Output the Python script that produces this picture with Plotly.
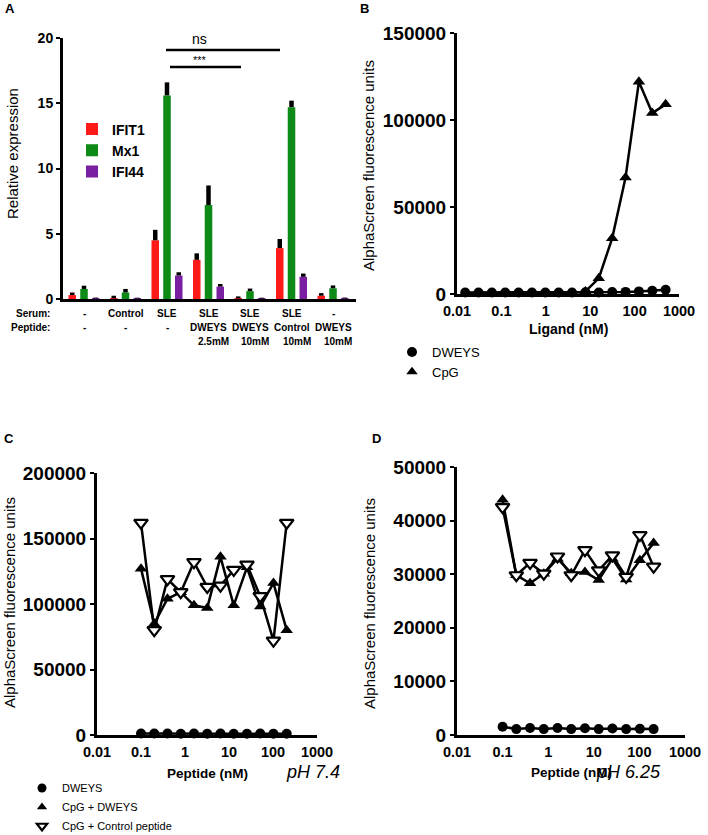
import plotly.graph_objects as go

W, H = 708, 835
FONT = "Liberation Sans, Arial, sans-serif"

# ---------------- Panel A data ----------------
serum_labels = ["-", "Control", "SLE", "SLE", "SLE", "SLE", "-"]
peptide_labels = ["-", "-", "-", "DWEYS", "DWEYS", "Control", "DWEYS"]
dose_labels = ["", "", "", "2.5mM", "10mM", "10mM", "10mM"]

ifit1 = [0.3, 0.05, 4.5, 3.0, 0.05, 3.9, 0.25]
ifit1_err = [0.2, 0.2, 0.8, 0.5, 0.15, 0.7, 0.2]
mx1 = [0.77, 0.5, 15.6, 7.2, 0.6, 14.7, 0.82]
mx1_err = [0.25, 0.27, 1.0, 1.5, 0.2, 0.5, 0.22]
ifi44 = [0.05, 0.04, 1.8, 0.95, 0.04, 1.7, 0.05]
ifi44_err = [0.06, 0.06, 0.25, 0.2, 0.06, 0.25, 0.06]

a_yticks = [0, 5, 10, 15, 20]
# significance bars: (x0, x1, y) in category / value units
sig_ns = [1.976, 4.723, 19.08]
sig_star = [2.072, 3.783, 17.78]

# ---------------- Panel B data ----------------
ligand_nM = [0.0153, 0.0305, 0.061, 0.122, 0.244, 0.488, 0.977, 1.95,
             3.9, 7.8, 15.6, 31.25, 62.5, 125, 250, 500]
dweys_b = [900, 900, 900, 900, 900, 900, 900, 900,
           900, 1000, 900, 1100, 1200, 1500, 1900, 2400]
cpg_b = [300, 300, 300, 300, 300, 300, 300, 300,
         400, 1500, 9000, 32000, 67000, 122000, 104000, 109000]
b_yticks = [0, 50000, 100000, 150000]

# ---------------- Panels C / D data ----------------
peptide_nM = [0.1, 0.2, 0.4, 0.8, 1.6, 3.2, 6.4, 12.8, 25.6, 51.2, 102.4, 204.8]
dweys_c = [1200, 1100, 1100, 1000, 1100, 1000, 1100, 1000, 1000, 1100, 1000, 1000]
cpg_dweys_c = [127000, 85000, 104000, 109000, 99000, 97000,
               136000, 99000, 128000, 98000, 116000, 80000]
cpg_ctrl_c = [162000, 80000, 119000, 109000, 132000, 113000,
              114000, 126000, 130000, 106000, 72000, 162000]
c_yticks = [0, 50000, 100000, 150000, 200000]

dweys_d = [1550, 1100, 1300, 1100, 1300, 1100, 1250, 1100, 1200, 1100, 1150, 1100]
cpg_dweys_d = [43900, 29800, 28300, 30100, 32900, 30200,
               30400, 28900, 32900, 29000, 32600, 35800]
cpg_ctrl_d = [42500, 29800, 32100, 30100, 33300, 29800,
              34500, 30700, 33500, 29500, 37300, 31400]
d_yticks = [0, 10000, 20000, 30000, 40000, 50000]

log_ticks = [0.01, 0.1, 1, 10, 100, 1000]
log_ticktext = ["0.01", "0.1", "1", "10", "100", "1000"]

RED, GREEN, PURPLE = "#FF1A1A", "#0E8A16", "#7A1FA2"


def px_x(p):
    return p / W


def px_y(p):
    return 1 - p / H


fig = go.Figure()

# ---- Panel A bars ----
cats = list(range(len(serum_labels)))
for name, vals, errs, col in [("IFIT1", ifit1, ifit1_err, RED),
                              ("Mx1", mx1, mx1_err, GREEN),
                              ("IFI44", ifi44, ifi44_err, PURPLE)]:
    fig.add_trace(go.Bar(
        x=cats, y=vals, name=name, marker=dict(color=col, line=dict(width=0)),
        error_y=dict(type="data", array=errs, arrayminus=[0] * len(errs),
                     symmetric=False, color="black", thickness=4.5, width=0),
        xaxis="x", yaxis="y", legend="legend"))

# ---- Panel B ----
fig.add_trace(go.Scatter(x=ligand_nM, y=cpg_b, mode="lines+markers", name="CpG",
                         line=dict(color="black", width=2.5),
                         marker=dict(symbol="triangle-up", size=11, color="black"),
                         xaxis="x2", yaxis="y2", showlegend=False, cliponaxis=False))
fig.add_trace(go.Scatter(x=ligand_nM, y=dweys_b, mode="lines+markers", name="DWEYS",
                         line=dict(color="black", width=2.5),
                         marker=dict(symbol="circle", size=10, color="black"),
                         xaxis="x2", yaxis="y2", showlegend=False, cliponaxis=False))
# legend keys for B
fig.add_trace(go.Scatter(x=[None], y=[None], mode="markers", name="DWEYS",
                         marker=dict(symbol="circle", size=10, color="black"),
                         xaxis="x2", yaxis="y2", legend="legend2"))
fig.add_trace(go.Scatter(x=[None], y=[None], mode="markers", name="CpG",
                         marker=dict(symbol="triangle-up", size=10, color="black"),
                         xaxis="x2", yaxis="y2", legend="legend2"))

# ---- Panel C & D ----
for xa, ya, dw, cd, cc in [("x3", "y3", dweys_c, cpg_dweys_c, cpg_ctrl_c),
                            ("x4", "y4", dweys_d, cpg_dweys_d, cpg_ctrl_d)]:
    fig.add_trace(go.Scatter(x=peptide_nM, y=dw, mode="lines+markers", name="DWEYS",
                             line=dict(color="black", width=2.5),
                             marker=dict(symbol="circle", size=10, color="black"),
                             xaxis=xa, yaxis=ya, showlegend=False, cliponaxis=False))
    fig.add_trace(go.Scatter(x=peptide_nM, y=cd, mode="lines+markers", name="CpG + DWEYS",
                             line=dict(color="black", width=2.5),
                             marker=dict(symbol="triangle-up", size=11, color="black"),
                             xaxis=xa, yaxis=ya, showlegend=False, cliponaxis=False))
    fig.add_trace(go.Scatter(x=peptide_nM, y=cc, mode="lines+markers", name="CpG + Control peptide",
                             line=dict(color="black", width=2.5),
                             marker=dict(symbol="triangle-down", size=12, color="white",
                                         line=dict(color="black", width=2.2)),
                             xaxis=xa, yaxis=ya, showlegend=False, cliponaxis=False))

fig.add_trace(go.Scatter(x=[None], y=[None], mode="markers", name="DWEYS",
                         marker=dict(symbol="circle", size=9, color="black"),
                         xaxis="x3", yaxis="y3", legend="legend3"))
fig.add_trace(go.Scatter(x=[None], y=[None], mode="markers", name="CpG + DWEYS",
                         marker=dict(symbol="triangle-up", size=9, color="black"),
                         xaxis="x3", yaxis="y3", legend="legend3"))
fig.add_trace(go.Scatter(x=[None], y=[None], mode="markers", name="CpG + Control peptide",
                         marker=dict(symbol="triangle-down", size=9, color="white",
                                     line=dict(color="black", width=2.2)),
                         xaxis="x3", yaxis="y3", legend="legend3"))

axline = dict(showline=True, linecolor="black", linewidth=3, showgrid=False,
              zeroline=False, layer="below traces", automargin=False)

ytick_common = dict(ticks="outside", ticklen=4, tickwidth=2, tickcolor="black",
                    tickfont=dict(family=FONT, size=19, color="black", weight="bold"))
xlog_common = dict(type="log", range=[-2, 3], tickvals=log_ticks, ticktext=log_ticktext,
                   ticks="", ticklabelstandoff=2,
                   tickfont=dict(family=FONT, size=14.5, color="black", weight="bold"))

fig.update_layout(
    width=W, height=H, autosize=False,
    margin=dict(l=0, r=0, t=0, b=0, pad=0, autoexpand=False),
    paper_bgcolor="white", plot_bgcolor="white",
    font=dict(family=FONT, color="black"),
    barmode="group", bargap=0.15, bargroupgap=0.36,
    xaxis=dict(domain=[px_x(63), px_x(356)], range=[-0.506, 6.554],
               showticklabels=False, ticks="", anchor="y", **axline),
    yaxis=dict(domain=[px_y(299), px_y(38)], range=[0, 20], tickvals=a_yticks,
               ticks="outside", ticklen=4, tickwidth=2, tickcolor="black",
               tickfont=dict(family=FONT, size=14, color="black", weight="bold"),
               anchor="x", **axline),
    xaxis2=dict(domain=[px_x(457), px_x(679)], anchor="y2", **xlog_common, **axline),
    yaxis2=dict(domain=[px_y(294), px_y(33)], range=[0, 150000], tickvals=b_yticks,
                ticktext=[str(v) for v in b_yticks], anchor="x2", **ytick_common, **axline),
    xaxis3=dict(domain=[px_x(97), px_x(317)], anchor="y3", **xlog_common, **axline),
    yaxis3=dict(domain=[px_y(735), px_y(473)], range=[0, 200000], tickvals=c_yticks,
                ticktext=[str(v) for v in c_yticks], anchor="x3", **ytick_common, **axline),
    xaxis4=dict(domain=[px_x(457), px_x(685)], anchor="y4", **xlog_common, **axline),
    yaxis4=dict(domain=[px_y(735), px_y(467)], range=[0, 50000], tickvals=d_yticks,
                ticktext=[str(v) for v in d_yticks], anchor="x4", **ytick_common, **axline),
    legend=dict(x=px_x(72), y=px_y(113.5), xanchor="left", yanchor="top",
                bgcolor="rgba(0,0,0,0)", borderwidth=0,
                font=dict(family=FONT, size=14, color="black", weight="bold")),
    legend2=dict(x=px_x(392), y=px_y(337), xanchor="left", yanchor="top",
                 bgcolor="rgba(0,0,0,0)", borderwidth=0,
                 font=dict(family=FONT, size=13, color="black")),
    legend3=dict(x=px_x(22), y=px_y(773.5), xanchor="left", yanchor="top",
                 bgcolor="rgba(0,0,0,0)", borderwidth=0,
                 font=dict(family=FONT, size=11, color="black")),
)

# significance lines
for x0, x1, yv in [sig_ns, sig_star]:
    fig.add_shape(type="line", xref="x", yref="y", x0=x0, x1=x1, y0=yv, y1=yv,
                  line=dict(color="black", width=2.5))

ann = []


def add_text(text, xp, yp, size, bold=False, italic=False, angle=0, xanchor="center",
             xref="paper", xval=None, xshift=0):
    ann.append(dict(
        text=text, xref=xref, yref="paper",
        x=xval if xval is not None else px_x(xp), y=px_y(yp),
        xanchor=xanchor, yanchor="middle", showarrow=False, textangle=angle,
        xshift=xshift,
        font=dict(family=FONT, size=size, color="black",
                  weight="bold" if bold else "normal",
                  style="italic" if italic else "normal")))


# panel letters
add_text("A", 10, 9, 13, bold=True)
add_text("B", 364, 9, 13, bold=True)
add_text("C", 9, 438, 13, bold=True)
add_text("D", 377, 438, 13, bold=True)

# significance labels
add_text("ns", 199, 39, 14)
add_text("***", 200, 60, 11)

# category table under A
add_text("Serum:", 52, 314, 10, bold=True, xanchor="right")
add_text("Peptide:", 52, 328, 10, bold=True, xanchor="right")
for i in cats:
    add_text(serum_labels[i], 0, 314, 10, bold=True, xref="x", xval=i)
    add_text(peptide_labels[i], 0, 328, 10, bold=True, xref="x", xval=i)
    if dose_labels[i]:
        add_text(dose_labels[i], 0, 342, 10, bold=True, xref="x", xval=i, xshift=5)

# axis titles
add_text("Relative expression", 12, 154, 15, angle=-90)
add_text("AlphaScreen fluorescence units", 368, 166, 15, angle=-90)
add_text("AlphaScreen fluorescence units", 9, 603, 15, angle=-90)
add_text("AlphaScreen fluorescence units", 369, 604, 15, angle=-90)
add_text("Ligand (nM)", 568, 329, 14, bold=True)
add_text("Peptide (nM)", 207, 773, 13.5, bold=True)
add_text("Peptide (nM)", 571, 772, 13.5, bold=True)
add_text("pH 7.4", 313, 772, 18, italic=True)
add_text("pH 6.25", 628, 772, 18, italic=True)

fig.update_layout(annotations=ann)

# remove the browser's default 8px body margin so the figure fills the window exactly
fig.write_html("out.html", config={"displayModeBar": False},
               post_script="document.body.style.margin='0px';")
